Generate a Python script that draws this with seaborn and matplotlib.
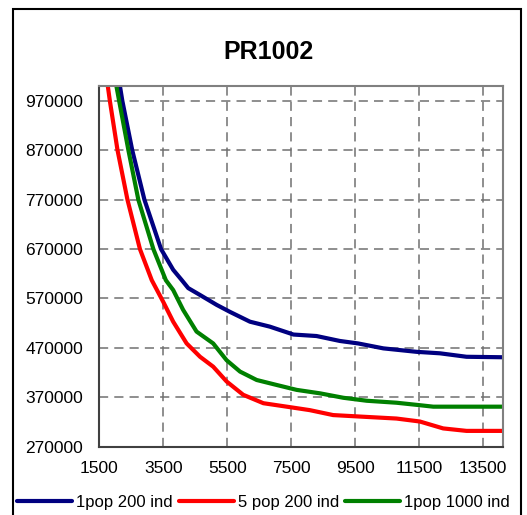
import numpy as np
import pandas as pd
import seaborn as sns
import matplotlib
matplotlib.use("Agg")
import matplotlib.pyplot as plt
from matplotlib.patches import Rectangle

# 곡선 데이터
blue_x = [2050, 2150, 2220, 2530, 2910, 3430, 3810, 4080, 4280, 4650, 5170, 5580,
          6210, 6830, 7570, 8290, 9020, 9590, 10380, 11420, 12150, 12980, 14150]
blue_y = [1030000, 998000, 970000, 870000, 770000, 670000, 628000, 607000, 591000,
          577000, 557000, 543000, 523000, 513000, 497000, 494000, 484000, 479000,
          469000, 462000, 459000, 452000, 451000]

red_x = [1680, 1770, 1830, 2070, 2380, 2770, 3140, 3500, 3810, 4230, 4650, 5060,
         5480, 6000, 6630, 7360, 8080, 8810, 9650, 10790, 11520, 12250, 12980, 14150]
red_y = [1030000, 998000, 970000, 870000, 770000, 670000, 607000, 563000, 523000,
         479000, 452000, 432000, 402000, 375000, 358000, 351000, 344000, 334000,
         331000, 327000, 321000, 307000, 302000, 302000]

green_x = [1950, 2040, 2120, 2410, 2720, 3190, 3580, 3810, 4120, 4540, 5060, 5480,
           5900, 6420, 7040, 7670, 8400, 9130, 9860, 10790, 11520, 11940, 14150]
green_y = [1030000, 998000, 970000, 870000, 770000, 670000, 607000, 587000, 547000,
           503000, 479000, 445000, 422000, 405000, 395000, 385000, 378000, 369000,
           363000, 359000, 354000, 351000, 351000]

labels = ["1pop 200 ind", "5 pop 200 ind", "1pop 1000 ind"]
colors = ["#000080", "#FF0000", "#008000"]
x_ticks = [1500, 3500, 5500, 7500, 9500, 11500, 13500]
y_ticks = [270000, 370000, 470000, 570000, 670000, 770000, 870000, 970000]

df = pd.concat([
    pd.DataFrame({"x": blue_x, "y": blue_y, "series": labels[0], "o": np.arange(len(blue_x))}),
    pd.DataFrame({"x": red_x, "y": red_y, "series": labels[1], "o": np.arange(len(red_x))}),
    pd.DataFrame({"x": green_x, "y": green_y, "series": labels[2], "o": np.arange(len(green_x))}),
])

sns.set_style("white")
plt.rcParams["font.family"] = ["Liberation Sans", "DejaVu Sans"]
plt.rcParams["text.color"] = "black"

fig = plt.figure(figsize=(5.27, 5.15), dpi=100)
ax = fig.add_axes([99.3 / 527, 1 - 446.7 / 515, (503.3 - 99.3) / 527, (446.7 - 86) / 515])

sns.lineplot(data=df, x="x", y="y", hue="series", hue_order=labels,
             palette=colors, sort=False, estimator=None, units="series",
             linewidth=3, ax=ax, legend=False)

ax.set_xlim(1500, 14130)
ax.set_ylim(270000, 1000000)
ax.set_xticks(x_ticks)
ax.set_yticks(y_ticks)
ax.set_xticklabels([str(v) for v in x_ticks])
ax.set_yticklabels([str(v) for v in y_ticks])
ax.set_xlabel("")
ax.set_ylabel("")
ax.grid(True, color="#707070", linestyle=(0, (6, 4)), linewidth=1.1)
ax.set_axisbelow(True)
for s in ["top", "right"]:
    ax.spines[s].set_color("#808080")
    ax.spines[s].set_linewidth(1.5)
for s in ["left", "bottom"]:
    ax.spines[s].set_color("#404040")
    ax.spines[s].set_linewidth(1.5)
ax.tick_params(axis="both", direction="inout", length=9, width=1, color="#404040",
               labelsize=12.5, labelcolor="black")
ax.tick_params(axis="y", pad=7)
ax.tick_params(axis="x", pad=6)

fig.text(269 / 527, 1 - 52 / 515, "PR1002", ha="center", va="center",
         fontsize=18, fontweight="bold", color="black")

handles = [plt.Line2D([], [], color=c, lw=3) for c in colors]
fig.legend(handles, labels, loc="center left", bbox_to_anchor=(17 / 527, 1 - 502 / 515),
           ncol=3, frameon=False, fontsize=12, handlelength=3.3, handletextpad=0.25,
           columnspacing=0.35, borderpad=0, borderaxespad=0, labelcolor="black")

fig.patches.append(Rectangle((13 / 527, -0.2), (521 - 13) / 527, 1.2 - 9 / 515,
                             transform=fig.transFigure, fill=False,
                             edgecolor="black", linewidth=1.5))

fig.savefig("out.png", dpi=100)
